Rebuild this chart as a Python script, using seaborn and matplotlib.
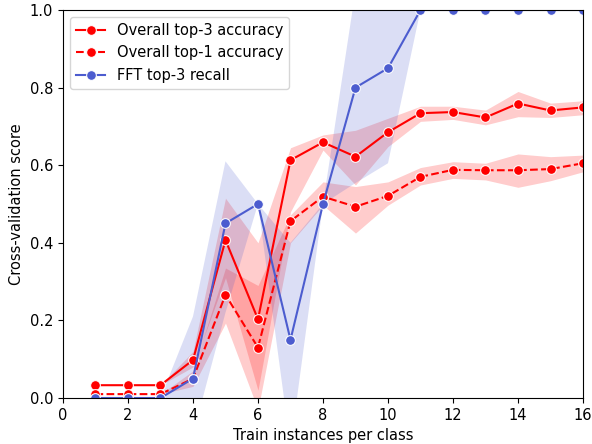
import pandas as pd
import matplotlib
matplotlib.use("Agg")
import matplotlib.pyplot as plt
import seaborn as sns

plt.rcParams["font.size"] = 10.5

# Train instances per class
x_vals = list(range(1, 17))

# Overall top-3 accuracy: median, lower and upper bound of the band
top3_mid = [0.033, 0.033, 0.033, 0.098, 0.407, 0.203, 0.613, 0.659, 0.622, 0.685, 0.734, 0.737, 0.723, 0.759, 0.741, 0.749]
top3_lo = [0.033, 0.033, 0.033, 0.08, 0.31, 0.02, 0.48, 0.639, 0.549, 0.648, 0.713, 0.718, 0.704, 0.725, 0.723, 0.73]
top3_hi = [0.033, 0.033, 0.033, 0.12, 0.515, 0.40, 0.645, 0.678, 0.69, 0.721, 0.752, 0.752, 0.742, 0.79, 0.76, 0.766]

# Overall top-1 accuracy
top1_mid = [0.01, 0.01, 0.01, 0.05, 0.266, 0.13, 0.456, 0.519, 0.493, 0.521, 0.570, 0.588, 0.587, 0.587, 0.590, 0.605]
top1_lo = [0.01, 0.01, 0.01, 0.03, 0.193, -0.03, 0.40, 0.497, 0.425, 0.497, 0.549, 0.566, 0.562, 0.543, 0.56, 0.583]
top1_hi = [0.01, 0.01, 0.01, 0.07, 0.335, 0.29, 0.472, 0.557, 0.545, 0.557, 0.594, 0.609, 0.605, 0.629, 0.622, 0.626]

# FFT top-3 recall
fft_mid = [0.0, 0.0, 0.0, 0.05, 0.45, 0.5, 0.15, 0.5, 0.8, 0.85, 1.0, 1.0, 1.0, 1.0, 1.0, 1.0]
fft_lo = [0.0, 0.0, 0.0, -0.094, 0.22, 0.5, -0.125, 0.5, 0.554, 0.605, 1.0, 1.0, 1.0, 1.0, 1.0, 1.0]
fft_hi = [0.0, 0.0, 0.0, 0.21, 0.61, 0.5, 0.40, 0.5, 1.05, 1.1, 1.0, 1.0, 1.0, 1.0, 1.0, 1.0]

series = [
    ("Overall top-3 accuracy", top3_lo, top3_mid, top3_hi, "red", "-"),
    ("Overall top-1 accuracy", top1_lo, top1_mid, top1_hi, "red", "--"),
    ("FFT top-3 recall", fft_lo, fft_mid, fft_hi, "#4c5ccf", "-"),
]

fig, ax = plt.subplots(figsize=(5.92, 4.44), dpi=100)
fig.subplots_adjust(left=0.1064, right=0.9848, bottom=0.1036, top=0.9775)

for name, lo, mid, hi, color, ls in series:
    rows = []
    for i, xv in enumerate(x_vals):
        for v in (lo[i], mid[i], hi[i]):
            rows.append({"x": xv, "score": v})
    df = pd.DataFrame(rows)
    sns.lineplot(data=df, x="x", y="score", estimator="median",
                 errorbar=("pi", 100), color=color, linestyle=ls,
                 marker="o", markersize=7, label=name, ax=ax,
                 err_kws={"linewidth": 0, "alpha": 0.2})

ax.set_xlim(0, 16)
ax.set_ylim(0, 1.0)
ax.set_xlabel("Train instances per class")
ax.set_ylabel("Cross-validation score")
ax.legend(loc="upper left")

plt.savefig("out.png", dpi=100)
